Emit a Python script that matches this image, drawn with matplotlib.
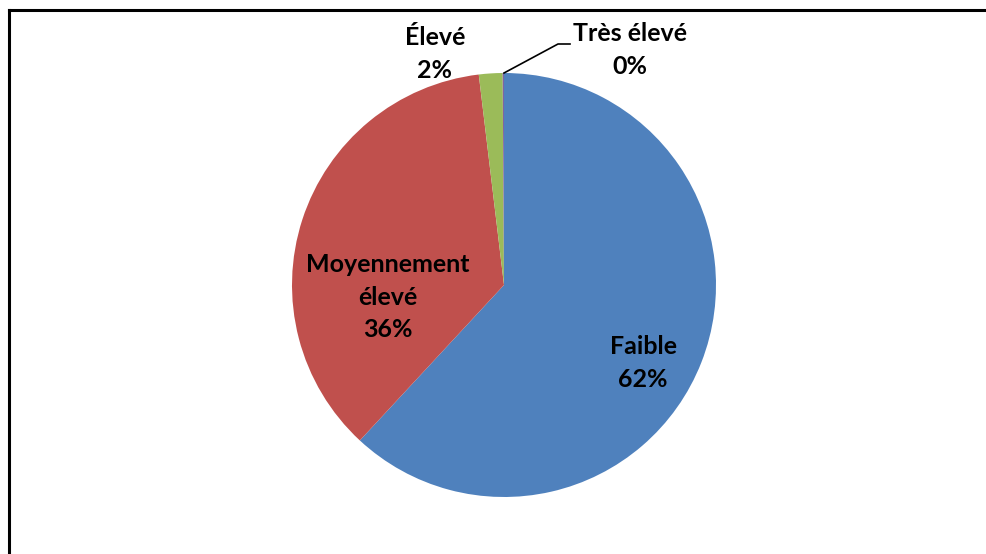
import matplotlib.pyplot as plt

# data
categories = ["Faible", "Moyennement\nélevé", "Élevé", "Très élevé"]
values = [61.9, 36.2, 1.8, 0.1]
pct_labels = ["62%", "36%", "2%", "0%"]
colors = ["#4F81BD", "#C0504D", "#9BBB59", "#8064A2"]

plt.rcParams['font.family'] = ['Lato', 'DejaVu Sans']

W, H = 987, 554
fig = plt.figure(figsize=(W / 100, H / 100), dpi=100)
ax = fig.add_axes([0, 0, 1, 1])

# pie (centre / radius in pixel units of the canvas)
cx, cy, r = 504, H - 285, 212
ax.pie(values, colors=colors, startangle=90, counterclock=False,
       center=(cx, cy), radius=r, frame=True,
       wedgeprops=dict(linewidth=0))
ax.set_xlim(0, W)
ax.set_ylim(0, H)
ax.set_aspect('equal')
ax.axis('off')

# labels
label_pos = [(643, 363), (388, 297), (435, 54), (630, 50)]
for cat, pct, (x, y) in zip(categories, pct_labels, label_pos):
    ax.text(x, H - y, cat + "\n" + pct, ha='center', va='center',
            fontsize=18, fontweight='bold', color='black', linespacing=1.5)

# leader line for the tiny slice
ax.plot([504, 558, 570], [H - 73, H - 44, H - 44], color='black', lw=1.2)

# chart border (top and left visible)
ax.plot([9, 9], [0, H - 10], color='black', lw=2.2, solid_capstyle='projecting')
ax.plot([9, W], [H - 10, H - 10], color='black', lw=2.2, solid_capstyle='projecting')

fig.savefig('out.png', dpi=100)
